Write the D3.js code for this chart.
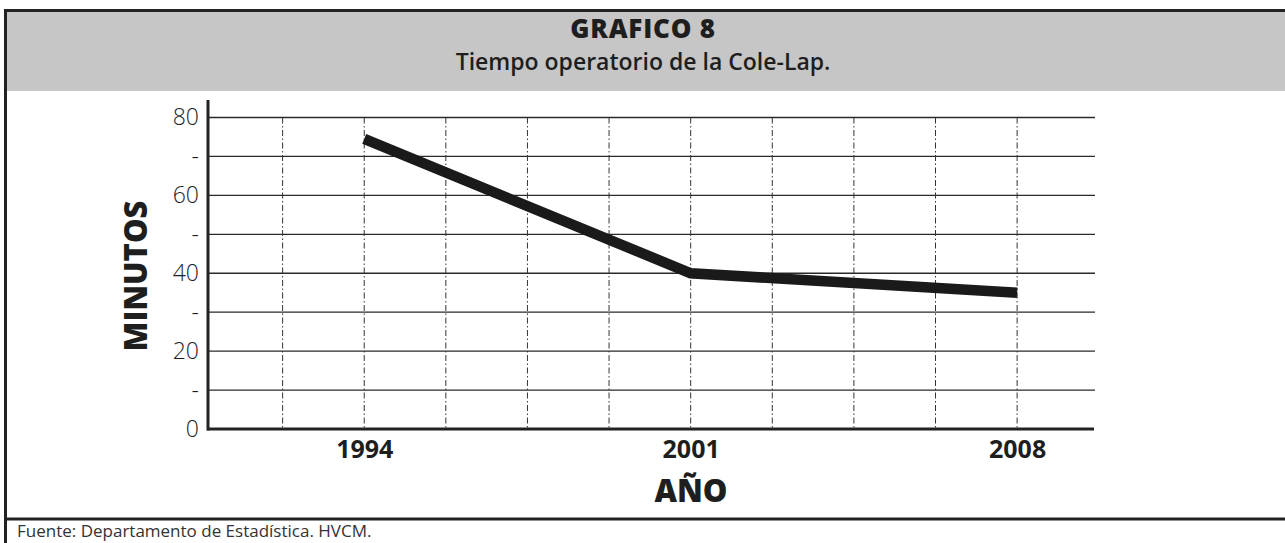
<!DOCTYPE html>
<html>
<head>
<meta charset="utf-8">
<script src="https://cdn.jsdelivr.net/npm/d3@7"></script>
<style>
  html, body { margin: 0; padding: 0; background: #fff; }
  svg { display: block; }
  text { font-family: "Open Sans", "Noto Sans", sans-serif; fill: #1e1e1e; }
</style>
</head>
<body>
<script>
// ---- data ----
const years = [1994, 2001, 2008];
const minutes = [74.5, 40, 35];
const yTicks = [0, 10, 20, 30, 40, 50, 60, 70, 80];
const yTickLabels = ["0", "-", "20", "-", "40", "-", "60", "-", "80"];
const xGridYears = [1992.25, 1994, 1995.75, 1997.5, 1999.25, 2001, 2002.75, 2004.5, 2006.25, 2008];
const titleText = "GRAFICO 8";
const subtitleText = "Tiempo operatorio de la Cole-Lap.";
const yTitle = "MINUTOS";
const xTitle = "AÑO";
const sourceText = "Fuente: Departamento de Estadística. HVCM.";

const W = 1285, H = 543;
const svg = d3.select("body").append("svg").attr("width", W).attr("height", H);

// frame + header
svg.append("rect").attr("x", 5).attr("y", 11).attr("width", W - 5).attr("height", 80).attr("fill", "#c6c6c6");
svg.append("line").attr("x1", 4).attr("x2", W).attr("y1", 10.5).attr("y2", 10.5).attr("stroke", "#222").attr("stroke-width", 3);
svg.append("line").attr("x1", 5.5).attr("x2", 5.5).attr("y1", 9).attr("y2", H).attr("stroke", "#222").attr("stroke-width", 3);
svg.append("line").attr("x1", 4).attr("x2", W).attr("y1", 519).attr("y2", 519).attr("stroke", "#222").attr("stroke-width", 3);

svg.append("text").attr("x", 643).attr("y", 38).attr("text-anchor", "middle")
  .attr("font-size", 26).attr("font-weight", 800).attr("letter-spacing", 0.8).text(titleText);
svg.append("text").attr("x", 643).attr("y", 70).attr("text-anchor", "middle")
  .attr("font-size", 23).attr("font-weight", 600).text(subtitleText);

// scales
const x = d3.scaleLinear().domain([1990.65, 2009.67]).range([208, 1095]);
const y = d3.scaleLinear().domain([0, 80]).range([429, 117.5]);

// horizontal grid
svg.append("g").selectAll("line").data(yTicks.filter(d => d > 0)).join("line")
  .attr("x1", x.range()[0]).attr("x2", x.range()[1])
  .attr("y1", d => y(d)).attr("y2", d => y(d))
  .attr("stroke", "#2a2a2a").attr("stroke-width", 1.3);

// vertical dash-dot grid
svg.append("g").selectAll("line").data(xGridYears).join("line")
  .attr("x1", d => x(d)).attr("x2", d => x(d))
  .attr("y1", y(80)).attr("y2", y(0))
  .attr("stroke", "#333").attr("stroke-width", 1)
  .attr("stroke-dasharray", "6,2.5,1.5,2.5");

// y axis
const yAxis = d3.axisLeft(y).tickValues(yTicks).tickSize(0).tickPadding(9)
  .tickFormat((d, i) => yTickLabels[i]);
const gy = svg.append("g").attr("transform", `translate(${x.range()[0]},0)`).call(yAxis);
gy.select(".domain").remove();
gy.selectAll("text").attr("font-size", 23).attr("font-weight", 300)
  .attr("font-family", "'Open Sans', sans-serif").attr("fill", "#222");
svg.append("line").attr("x1", 208).attr("x2", 208).attr("y1", 100).attr("y2", 430.5)
  .attr("stroke", "#222").attr("stroke-width", 3);

// x axis
const xAxis = d3.axisBottom(x).tickValues(years).tickSize(0).tickPadding(11).tickFormat(d3.format("d"));
const gx = svg.append("g").attr("transform", `translate(0,${y(0)})`).call(xAxis);
gx.select(".domain").remove();
gx.selectAll("text").attr("font-size", 25).attr("font-weight", 700)
  .attr("font-family", "'Open Sans', sans-serif").attr("fill", "#1e1e1e");
svg.append("line").attr("x1", 207).attr("x2", 1094).attr("y1", 429).attr("y2", 429)
  .attr("stroke", "#222").attr("stroke-width", 3);

// axis titles
svg.append("text").attr("transform", "translate(147,276) rotate(-90)").attr("text-anchor", "middle")
  .attr("font-size", 31).attr("font-weight", 800).text(yTitle);
svg.append("text").attr("x", 691).attr("y", 502).attr("text-anchor", "middle")
  .attr("font-size", 31).attr("font-weight", 800).text(xTitle);

// data line
const line = d3.line().x((d, i) => x(years[i])).y(d => y(d));
svg.append("path").datum(minutes).attr("d", line)
  .attr("fill", "none").attr("stroke", "#1a1a1a").attr("stroke-width", 10.5)
  .attr("stroke-linejoin", "miter").attr("stroke-linecap", "butt");

// source
svg.append("text").attr("x", 17).attr("y", 537).attr("font-size", 17).attr("font-weight", 400)
  .attr("fill", "#333").style("fill", "#333").text(sourceText);
</script>
</body>
</html>
